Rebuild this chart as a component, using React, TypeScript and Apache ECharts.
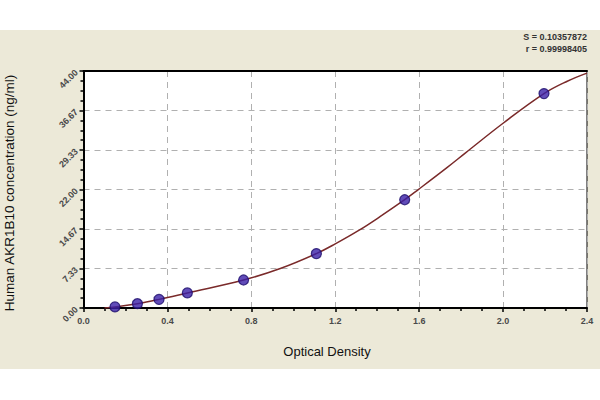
import React, { useEffect, useRef } from "react";
import * as echarts from "echarts";

// Standard points (Optical Density vs concentration)
const pointOD = [0.15, 0.257, 0.36, 0.495, 0.763, 1.11, 1.531, 2.195];
const pointConc = [0.2, 0.8, 1.6, 2.8, 5.2, 10.1, 20.1, 39.8];

// Fitted curve
const curveOD = [0.1, 0.15, 0.257, 0.36, 0.495, 0.763, 0.938, 1.11, 1.2, 1.312, 1.415, 1.531, 1.593, 1.734, 1.821, 2.0, 2.195, 2.306, 2.4];
const curveConc = [0, 0.2, 0.8, 1.6, 2.8, 5.2, 7.33, 10.1, 11.9, 14.4, 17.0, 20.1, 21.9, 26.1, 28.8, 34.3, 39.8, 42.1, 43.6];

const xTickLabels = ["0.0", "0.4", "0.8", "1.2", "1.6", "2.0", "2.4"];
const yTickLabels = ["0.00", "7.33", "14.67", "22.00", "29.33", "36.67", "44.00"];

const statS = "S = 0.10357872";
const statR = "r = 0.99998405";
const xName = "Optical Density";
const yName = "Human AKR1B10 concentration (ng/ml)";

const X_MAX = 2.4;
const X_INT = 0.4;
const Y_MAX = 44;
const Y_INT = 44 / 6;

export default function App() {
  const ref = useRef<HTMLDivElement>(null);
  useEffect(() => {
    const chart = echarts.init(ref.current!, null, { renderer: "svg" });
    const labelFont = { fontFamily: "Liberation Sans, Arial, sans-serif", fontSize: 9, fontWeight: "bold" as const, color: "#4a4a4a" };
    chart.setOption({
      animation: false,
      backgroundColor: "#ffffff",
      graphic: [
        { type: "rect", z: -10, silent: true, shape: { x: 0, y: 30, width: 600, height: 339 }, style: { fill: "#ECE9D8" } },
        { type: "text", right: 13, top: 32, style: { text: statS, font: "bold 9px Liberation Sans, Arial, sans-serif", fill: "#333", textAlign: "right" } },
        { type: "text", right: 13, top: 44, style: { text: statR, font: "bold 9px Liberation Sans, Arial, sans-serif", fill: "#333", textAlign: "right" } },
        { type: "text", x: 327, y: 351, style: { text: xName, font: "13px Liberation Sans, Arial, sans-serif", fill: "#111", textAlign: "center", textVerticalAlign: "middle" } },
        { type: "text", x: 9, y: 193, rotation: Math.PI / 2, style: { text: yName, font: "13.5px Liberation Sans, Arial, sans-serif", fill: "#111", textAlign: "center", textVerticalAlign: "middle" } },
      ],
      grid: { left: 83.5, right: 13, top: 71, bottom: 92, show: true, backgroundColor: "#ffffff", borderColor: "#000", borderWidth: 1 },
      xAxis: [
        {
          type: "value", min: 0, max: X_MAX, interval: X_INT,
          axisLine: { show: true, lineStyle: { color: "#000", width: 2 } },
          axisTick: { show: true, length: 4, lineStyle: { color: "#000", width: 1.5 } },
          minorTick: { show: true, splitNumber: 4, length: 3, lineStyle: { color: "#000", width: 1.5 } },
          splitLine: { show: true, lineStyle: { color: "#b0b0b0", type: [6, 5], width: 1 } },
          axisLabel: { ...labelFont, margin: 8, formatter: (v: number) => xTickLabels[Math.round(v / X_INT)] ?? "" },
        },
        {
          type: "value", position: "top", min: 0, max: X_MAX,
          axisLine: { show: true, lineStyle: { color: "#000", width: 2 } },
          axisTick: { show: false }, axisLabel: { show: false }, splitLine: { show: false },
        },
      ],
      yAxis: {
        type: "value", min: 0, max: Y_MAX, interval: Y_INT,
        axisLine: { show: true, lineStyle: { color: "#000", width: 2 } },
        axisTick: { show: true, length: 4, lineStyle: { color: "#000", width: 1.5 } },
        minorTick: { show: true, splitNumber: 4, length: 3, lineStyle: { color: "#000", width: 1.5 } },
        splitLine: { show: true, lineStyle: { color: "#b0b0b0", type: [6, 5], width: 1 } },
        axisLabel: { ...labelFont, rotate: 45, margin: 7, formatter: (v: number) => yTickLabels[Math.round(v / Y_INT)] ?? "" },
      },
      series: [
        {
          type: "line", smooth: 0.4, showSymbol: false, symbol: "none",
          data: curveOD.map((x, i) => [x, curveConc[i]]),
          lineStyle: { color: "#7a2a2a", width: 1.5 }, z: 2,
        },
        {
          type: "scatter", symbol: "circle", symbolSize: 10,
          data: pointOD.map((x, i) => [x, pointConc[i]]),
          itemStyle: { color: "#3a1fa8", borderColor: "#1c0c6a", borderWidth: 1.2 }, z: 3,
        },
      ],
    });
    return () => chart.dispose();
  }, []);
  return <div ref={ref} style={{ position: "absolute", left: 0, top: 0, width: 600, height: 400 }} />;
}
